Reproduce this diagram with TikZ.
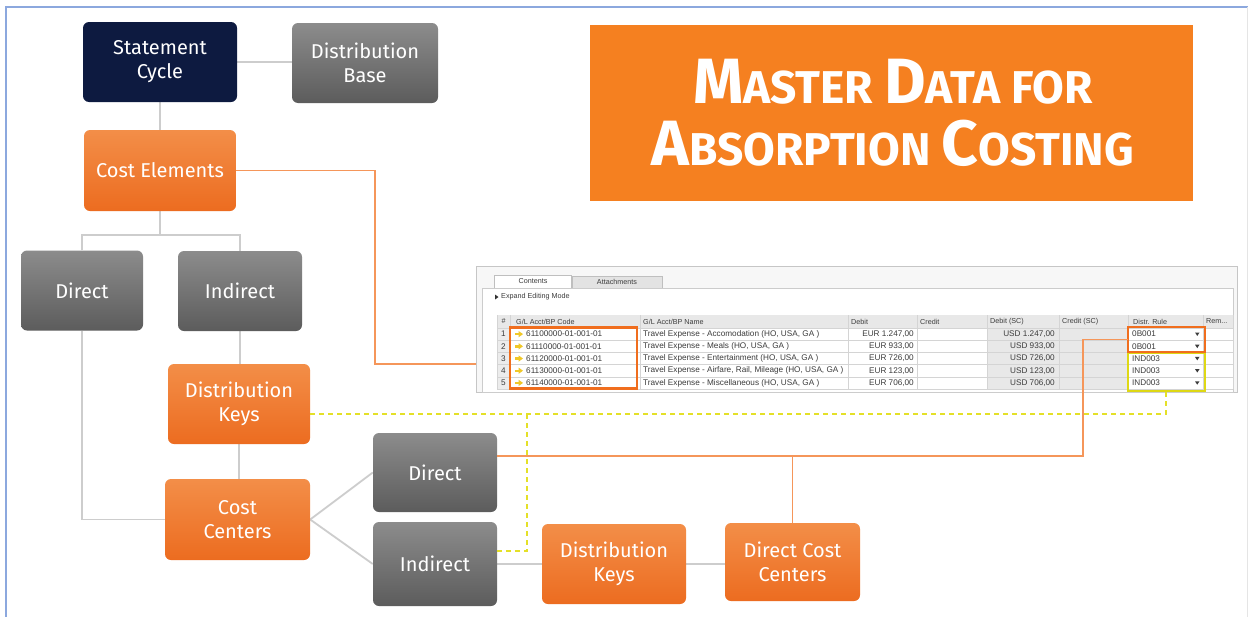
\documentclass[tikz,border=0pt]{standalone}
\usepackage{fontspec}
\setmainfont{Fira Sans}
\newfontfamily\uifont{Liberation Sans}
\usetikzlibrary{calc}
\pgfdeclarelayer{bg}
\pgfsetlayers{bg,main}

\definecolor{navy}{RGB}{13,26,64}
\definecolor{ortop}{RGB}{243,142,72}
\definecolor{orbot}{RGB}{236,108,32}
\definecolor{grtop}{RGB}{140,140,140}
\definecolor{grbot}{RGB}{92,92,92}
\definecolor{titleor}{RGB}{245,128,32}
\definecolor{conn}{RGB}{205,205,205}
\definecolor{olink}{RGB}{245,150,90}
\definecolor{ylink}{RGB}{228,224,40}
\definecolor{frameblue}{RGB}{140,168,222}
\definecolor{hlor}{RGB}{240,110,30}
\definecolor{hlyel}{RGB}{222,216,20}
\definecolor{uitext}{RGB}{60,60,60}
\definecolor{uigrid}{RGB}{212,212,212}
\definecolor{uishade}{RGB}{232,232,232}
\definecolor{arrowyel}{RGB}{240,200,40}

\tikzset{
  box/.style={rectangle, rounded corners=6pt, text=white, align=center,
    font=\fontsize{20}{24}\selectfont, inner sep=0pt},
  navybox/.style={box, fill=navy},
  graybox/.style={box, top color=grtop, bottom color=grbot},
  orbox/.style={box, top color=ortop, bottom color=orbot},
  gline/.style={draw=conn, line width=1.8pt},
  oline/.style={draw=olink, line width=1.4pt},
  yline/.style={draw=ylink, line width=1.4pt, dash pattern=on 5pt off 4pt},
  hl/.style={draw=#1, line width=2.2pt, inner sep=0pt, outer sep=0pt},
  ui/.style={font=\uifont\fontsize{8.2}{9}\selectfont, text=uitext, inner sep=0pt},
  uismall/.style={font=\uifont\fontsize{7.2}{8}\selectfont, text=uitext, inner sep=0pt},
}

% big initial letters of the title
\newcommand\tcap[1]{{\fontsize{64}{64}\selectfont #1}}

% one row of the journal-entry grid
\newcommand\uirow[5]{%
  \pgfmathsetmacro\ry{328+12.2*(#1-0.5)}
  \node[ui] at (503.5,\ry) {#1};
  \fill[arrowyel] (514.5,\ry-1.2) rectangle (518.5,\ry+1.2);
  \fill[arrowyel] (518.5,\ry-3.2) -- (523,\ry) -- (518.5,\ry+3.2) -- cycle;
  \node[ui,anchor=west] at (526,\ry) {#2};
  \node[ui,anchor=west] at (643,\ry) {#3};
  \node[ui,anchor=east] at (914,\ry) {EUR #4};
  \node[ui,anchor=east] at (1055,\ry) {USD #4};
  \node[ui,anchor=west] at (1132,\ry) {#5};
  \fill[uitext] (1195,\ry-1.6) -- (1199.5,\ry-1.6) -- (1197.25,\ry+1.8) -- cycle;
}

\begin{document}
\begin{tikzpicture}[x=1pt,y=-1pt]
\useasboundingbox (0,0) rectangle (1252,616);
\begin{pgfonlayer}{bg}
  \fill[white] (0,0) rectangle (1252,616);
\end{pgfonlayer}

% page frame
\draw[frameblue, line width=1.5pt] (6,620) -- (6,7) -- (1248,7);
\draw[gray!20, line width=1pt] (1247,7) -- (1247,620);

% title
\node[fill=titleor, minimum width=603, minimum height=176, inner sep=0pt] (title) at (891.5,113) {};
\node[text=white, align=center, font=\bfseries\fontsize{46}{62}\selectfont, inner sep=0pt]
  (titletext) at (893,113) {\tcap{M}ASTER \tcap{D}ATA FOR\\\tcap{A}BSORPTION \tcap{C}OSTING};

% hierarchy boxes
\node[navybox, minimum width=154, minimum height=80] (sc) at (160,62) {Statement\\Cycle};
\node[graybox, minimum width=146, minimum height=80] (db) at (365,63) {Distribution\\Base};
\node[orbox, minimum width=152, minimum height=81] (ce) at (160,170.5) {Cost Elements};
\node[graybox, minimum width=122, minimum height=80] (d1) at (82,290.5) {Direct};
\node[graybox, minimum width=124, minimum height=80] (i1) at (240,291) {Indirect};
\node[orbox, minimum width=142, minimum height=80] (dk1) at (239,404) {Distribution\\Keys};
\node[orbox, minimum width=145, minimum height=81] (cc) at (237.5,519.5) {Cost\\Centers};
\node[graybox, minimum width=124, minimum height=79] (d2) at (435,472.5) {Direct};
\node[graybox, minimum width=124, minimum height=84] (i2) at (435,564) {Indirect};
\node[orbox, minimum width=144, minimum height=80] (dk2) at (614,564) {Distribution\\Keys};
\node[orbox, minimum width=135, minimum height=78] (dcc) at (792.5,562) {Direct Cost\\Centers};

% journal-entry grid
\fill[gray!6] (476,266) rectangle (1237,392);
\draw[gray!45] (476,266) rectangle (1237,392);
\draw[gray!50, fill=white] (494,288) -- (494,275) -- (571,275) -- (571,288);
\draw[gray!50, fill=gray!22] (572,288) -- (572,276) -- (662,276) -- (662,288);
\node[uismall] at (533,281.5) {Contents};
\node[uismall] at (617,282) {Attachments};
\draw[gray!40, fill=white] (482,288) rectangle (1233,392);
\fill[black!80] (495,294.5) -- (498.5,297) -- (495,299.5) -- cycle;
\node[uismall, anchor=west] at (501,297) {Expand Editing Mode};
\fill[gray!18] (497,315) rectangle (1233,328);
\fill[gray!15] (497,328) rectangle (510,389);
\fill[uishade] (987,328) rectangle (1127,389);
\foreach \k in {0,...,5} \draw[uigrid] (497,328+12.2*\k) -- (1233,328+12.2*\k);
\foreach \c in {497,510,640,848,917,987,1059,1128,1203,1233} \draw[uigrid] (\c,315) -- (\c,389);
\node[uismall] at (503.5,321.5) {\#};
\node[uismall, anchor=west] at (516,321.5) {G/L Acct/BP Code};
\node[uismall, anchor=west] at (643,321.5) {G/L Acct/BP Name};
\node[uismall, anchor=west] at (851,321.5) {Debit};
\node[uismall, anchor=west] at (920,321.5) {Credit};
\node[uismall, anchor=west] at (990,321.5) {Debit (SC)};
\node[uismall, anchor=west] at (1062,321.5) {Credit (SC)};
\node[uismall, anchor=west] at (1133,321.5) {Distr. Rule};
\node[uismall, anchor=west] at (1206,321.5) {Rem...};
\uirow{1}{61100000-01-001-01}{Travel Expense - Accomodation (HO, USA, GA )}{1.247,00}{0B001}
\uirow{2}{61110000-01-001-01}{Travel Expense - Meals (HO, USA, GA )}{933,00}{0B001}
\uirow{3}{61120000-01-001-01}{Travel Expense - Entertainment (HO, USA, GA )}{726,00}{IND003}
\uirow{4}{61130000-01-001-01}{Travel Expense - Airfare, Rail, Mileage (HO, USA, GA )}{123,00}{IND003}
\uirow{5}{61140000-01-001-01}{Travel Expense - Miscellaneous (HO, USA, GA )}{706,00}{IND003}

% highlighted cells
\node[hl=hlyel, minimum width=77, minimum height=38] (ybox) at (1166.5,372) {};
\node[hl=hlor, minimum width=127, minimum height=61] (codebox) at (573.5,358) {};
\node[hl=hlor, minimum width=77, minimum height=24.5] (obox) at (1166.5,339.5) {};

% connectors
\coordinate (br) at (160,235);
\coordinate (k1) at (375,364);
\coordinate (k2) at (1083,456);
\coordinate (k3) at (1083,339.5);
\coordinate (k4) at (1166,414);
\coordinate (k5) at (527,414);
\coordinate (k6) at (527,551);

\begin{pgfonlayer}{bg}
  \draw[gline] (sc.east) -- (db.west |- sc.east);
  \draw[gline] (sc.south) -- (ce.north);
  \draw[gline] (ce.south) -- (br);
  \draw[gline] (d1.north) |- (br) -| (i1.north);
  \draw[gline] (i1.south) -- (i1.south |- dk1.north);
  \draw[gline] (dk1.south) -- (dk1.south |- cc.north);
  \draw[gline] (d1.south) |- (cc.west);
  \draw[gline] (cc.east) -- (d2.west);
  \draw[gline] (cc.east) -- (i2.west);
  \draw[gline] (i2.east) -- (dk2.west);
  \draw[gline] (dk2.east) -- (dcc.west |- dk2.east);
  \draw[oline] (ce.east) -| (k1) -- (k1 -| codebox.west);
\end{pgfonlayer}

\draw[yline] (dk1.east |- k4) -- (k4) -- (ybox.south -| k4);
\draw[yline] (k5) -- (k6) -- (k6 -| i2.east);
\draw[oline] (k2 -| d2.east) -- (k2) -- (k3) -- (obox.west);
\draw[oline] (dcc.north) -- (dcc.north |- k2);
\end{tikzpicture}
\end{document}
